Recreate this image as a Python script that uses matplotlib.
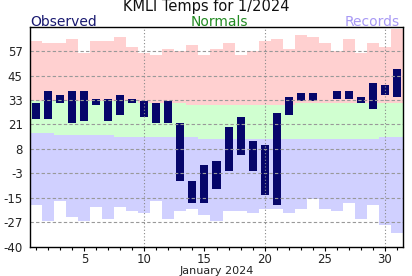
import numpy as np
import matplotlib
matplotlib.use("Agg")
import matplotlib.pyplot as plt

days = np.arange(1, 32)
obs_hi = [32, 38, 36, 38, 38, 34, 34, 36, 34, 33, 32, 33, 22, -7, 1, 3, 20, 25, 13, 11,
          27, 35, 37, 37, np.nan, 38, 38, 35, 42, 41, 49]
obs_lo = [24, 24, 32, 22, 23, 31, 23, 26, 32, 25, 22, 22, -7, -18, -18, -11, -2, 6, -2, -14,
          -19, 26, 33, 33, np.nan, 34, 34, 32, 29, 36, 35]
norm_hi = [33, 33, 33, 33, 33, 33, 33, 33, 33, 32, 32, 32, 32, 31, 31, 31, 31, 31, 31, 31,
           31, 31, 32, 32, 32, 32, 32, 32, 32, 32, 32]
norm_lo = [17, 17, 16, 16, 16, 16, 16, 15, 15, 15, 15, 15, 15, 15, 14, 14, 14, 14, 14, 14,
           14, 14, 14, 14, 14, 14, 14, 14, 14, 15, 15]
rec_hi = [63, 62, 62, 64, 57, 63, 63, 65, 60, 57, 56, 59, 58, 61, 56, 59, 62, 56, 58, 63,
          64, 59, 66, 65, 62, 58, 64, 57, 62, 60, 69]
rec_lo = [-19, -27, -17, -25, -27, -20, -26, -20, -22, -23, -17, -26, -22, -21, -24, -27, -22, -22, -23, -21,
          -21, -23, -21, -16, -21, -22, -18, -26, -19, -29, -33]
ytick_labels = ["-40", "-27", "-15", "-3", "8", "21", "33", "45", "57"]
xtick_days = [5, 10, 15, 20, 25, 30]
title = "KMLI Temps for 1/2024"
month_label = "January 2024"

obs_hi = np.array(obs_hi, float)
obs_lo = np.array(obs_lo, float)
norm_hi = np.array(norm_hi, float)
norm_lo = np.array(norm_lo, float)
rec_hi = np.array(rec_hi, float)
rec_lo = np.array(rec_lo, float)

fig = plt.figure(figsize=(4.12, 2.76), dpi=100)
ax = fig.add_axes([30.3 / 412, 1 - 246.7 / 276, (402.7 - 30.3) / 412, 220 / 276])

edges = np.append(days - 0.5, days[-1] + 0.5)
def ext(a):
    return np.append(a, a[-1])

ax.fill_between(edges, ext(norm_hi), ext(rec_hi), step='post', color='#ffd0d0', lw=0, zorder=1)
ax.fill_between(edges, ext(norm_lo), ext(norm_hi), step='post', color='#d0ffd0', lw=0, zorder=1)
ax.fill_between(edges, ext(rec_lo), ext(norm_lo), step='post', color='#d0d0ff', lw=0, zorder=1)

ax.bar(days, obs_hi - obs_lo, bottom=obs_lo, width=0.667, color='#06066a', lw=0, zorder=3)

ymin, ymax = -40, 70
ypos = np.linspace(ymin, ymax, 10)[:-1]
for y in ypos[1:]:
    ax.axhline(y, color='#999999', lw=0.8, ls=(0, (3, 2)), zorder=4)
for x in (10, 20, 30):
    ax.axvline(x, color='#888888', lw=0.8, ls=(0, (1, 2)), zorder=4)

ax.set_xlim(0.5, 31.5)
ax.set_ylim(ymin, ymax)
ax.set_yticks(ypos)
ax.set_yticklabels(ytick_labels)
ax.set_xticks(xtick_days)
ax.set_xticks(days, minor=True)
ax.tick_params(axis='y', length=0, pad=5.5, labelsize=8.5, labelcolor='#222222')
ax.tick_params(axis='x', which='major', length=3.2, width=0.8, pad=1, labelsize=8.5, labelcolor='#222222')
ax.tick_params(axis='x', which='minor', length=2.4, width=0.8)
ax.set_xlabel(month_label, fontsize=8, labelpad=0.5, color='#222222')
for s in ax.spines.values():
    s.set_linewidth(1.0)
    s.set_zorder(5)

fig.text(0.5, 1 - 11 / 276, title, ha='center', va='baseline', fontsize=10.5, color='#111111')
fig.text(30 / 412, 1 - 25.5 / 276, "Observed", ha='left', va='baseline', fontsize=10, color='#191970')
fig.text(219 / 412, 1 - 25.5 / 276, "Normals", ha='center', va='baseline', fontsize=10, color='#228b22')
fig.text(399.5 / 412, 1 - 25.5 / 276, "Records", ha='right', va='baseline', fontsize=10, color='#a899f5')

fig.savefig("out.png", dpi=100)
